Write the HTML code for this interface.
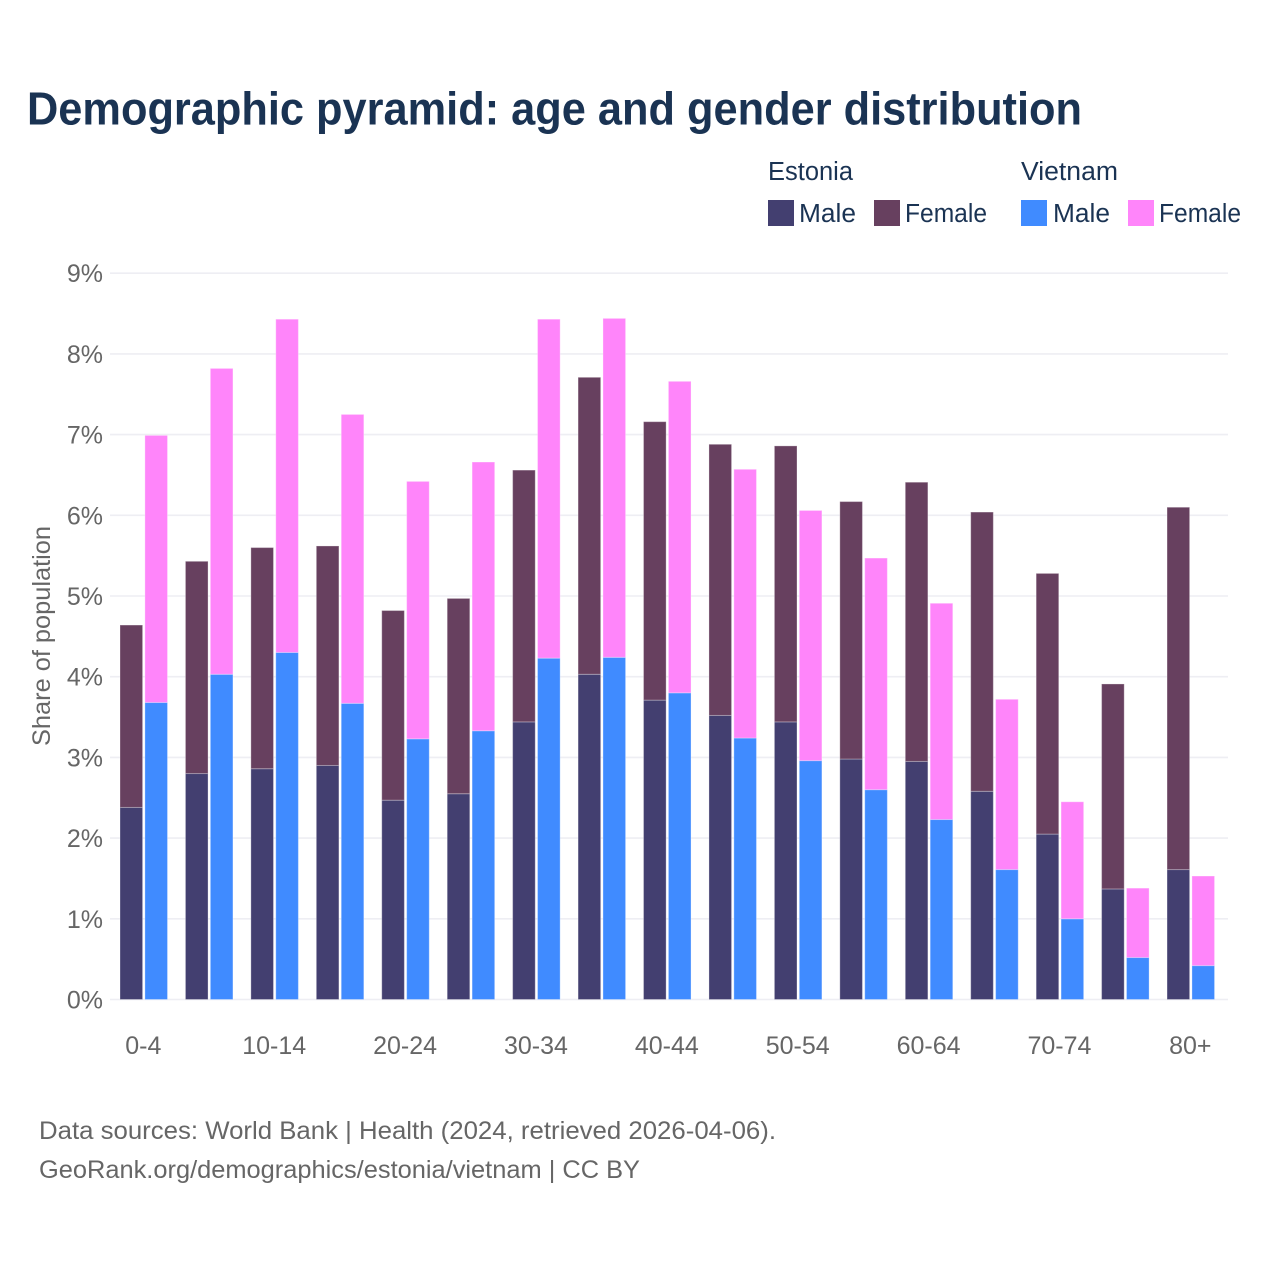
<!DOCTYPE html>
<html lang="en">
<head>
<meta charset="utf-8">
<title>Demographic pyramid: age and gender distribution</title>
<style>
html,body{margin:0;padding:0;background:#fff;}
svg{display:block;font-family:"Liberation Sans",sans-serif;}
</style>
</head>
<body>
<svg id="chart" width="1280" height="1280" viewBox="0 0 1280 1280" xmlns="http://www.w3.org/2000/svg">
  <rect width="1280" height="1280" fill="#fff"/>
  <text x="27" y="124.5" font-size="46" font-weight="700" fill="#1a3353" textLength="1055" lengthAdjust="spacingAndGlyphs">Demographic pyramid: age and gender distribution</text>

  <g font-size="25.5" fill="#1a3353">
    <text x="768" y="180" textLength="85" lengthAdjust="spacingAndGlyphs">Estonia</text>
    <text x="1021" y="180" textLength="97" lengthAdjust="spacingAndGlyphs">Vietnam</text>
    <rect x="768" y="200" width="26" height="26" fill="#433f70"/>
    <text x="799" y="222" textLength="57" lengthAdjust="spacingAndGlyphs">Male</text>
    <rect x="874" y="200" width="26" height="26" fill="#67405f"/>
    <text x="905" y="222" textLength="82" lengthAdjust="spacingAndGlyphs">Female</text>
    <rect x="1021" y="200" width="26" height="26" fill="#408bff"/>
    <text x="1053" y="222" textLength="57" lengthAdjust="spacingAndGlyphs">Male</text>
    <rect x="1128" y="200" width="26" height="26" fill="#ff85fa"/>
    <text x="1159" y="222" textLength="82" lengthAdjust="spacingAndGlyphs">Female</text>
  </g>

  <g id="grid"></g>
  <g id="yticks"></g>
  <g id="bars"></g>
  <g id="xticks"></g>

  <text transform="translate(50,636) rotate(-90)" text-anchor="middle" font-size="25" fill="#666" textLength="220" lengthAdjust="spacingAndGlyphs">Share of population</text>

  <text x="39" y="1139" font-size="25" fill="#666" textLength="737" lengthAdjust="spacingAndGlyphs">Data sources: World Bank | Health (2024, retrieved 2026-04-06).</text>
  <text x="39" y="1178" font-size="25" fill="#666" textLength="601" lengthAdjust="spacingAndGlyphs">GeoRank.org/demographics/estonia/vietnam | CC BY</text>
</svg>
<script>
const categories = ["0-4","5-9","10-14","15-19","20-24","25-29","30-34","35-39","40-44","45-49","50-54","55-59","60-64","65-69","70-74","75-79","80+"];
const yTickValues = [0,1,2,3,4,5,6,7,8,9];
const estoniaMale = [2.38,2.80,2.86,2.90,2.47,2.55,3.44,4.03,3.71,3.52,3.44,2.98,2.95,2.58,2.05,1.37,1.61];
const estoniaFemale = [2.26,2.63,2.74,2.72,2.35,2.42,3.12,3.68,3.45,3.36,3.42,3.19,3.46,3.46,3.23,2.54,4.49];
const vietnamMale = [3.68,4.03,4.30,3.67,3.23,3.33,4.23,4.24,3.80,3.24,2.96,2.60,2.23,1.61,1.00,0.52,0.42];
const vietnamFemale = [3.31,3.79,4.13,3.58,3.19,3.33,4.20,4.20,3.86,3.33,3.10,2.87,2.68,2.11,1.45,0.86,1.11];

const NS = "http://www.w3.org/2000/svg";
const yScale = function (v) { return 999.5 - v * 80.7; };
const xScale = function (i) { return 120 + i * 65.44; };
const barW = 22.6;
const barGap = 24.9;

function make(tag, parent) {
  const el = document.createElementNS(NS, tag);
  parent.appendChild(el);
  return el;
}

function drawBar(parent, x, from, to, color) {
  const r = make("rect", parent);
  r.setAttribute("x", x);
  r.setAttribute("y", yScale(from + to));
  r.setAttribute("width", barW);
  r.setAttribute("height", yScale(from) - yScale(from + to));
  r.setAttribute("fill", color);
  r.setAttribute("stroke", "rgba(255,255,255,0.3)");
  r.setAttribute("stroke-width", "1");
  return r;
}

const grid = document.getElementById("grid");
const yticks = document.getElementById("yticks");
yTickValues.forEach(function (v) {
  const line = make("line", grid);
  
  
  line.setAttribute("x1", 110);
  line.setAttribute("x2", 1228);
  line.setAttribute("y1", yScale(v));
  line.setAttribute("y2", yScale(v));
  line.setAttribute("stroke", "#eeeef3");
  line.setAttribute("stroke-width", "1.6");
  const t = make("text", yticks);
  
  
  t.setAttribute("x", 103);
  t.setAttribute("y", yScale(v) + 9);
  t.setAttribute("text-anchor", "end");
  t.setAttribute("font-size", "25");
  t.setAttribute("fill", "#666");
  t.textContent = v + "%";
});

const bars = document.getElementById("bars");
const xticks = document.getElementById("xticks");
categories.forEach(function (c, i) {
  const x = xScale(i);
  const em = drawBar(bars, x, 0, estoniaMale[i], "#433f70");
  
  
  const ef = drawBar(bars, x, estoniaMale[i], estoniaFemale[i], "#67405f");
  
  
  const vm = drawBar(bars, x + barGap, 0, vietnamMale[i], "#408bff");
  
  
  const vf = drawBar(bars, x + barGap, vietnamMale[i], vietnamFemale[i], "#ff85fa");
  
  
  if (i % 2 === 0) {
    const t = make("text", xticks);
    
    
    t.setAttribute("x", x + 23.3);
    t.setAttribute("y", 1054);
    t.setAttribute("text-anchor", "middle");
    t.setAttribute("font-size", "25");
    t.setAttribute("fill", "#666");
    t.textContent = c;
  }
});
</script>
</body>
</html>
